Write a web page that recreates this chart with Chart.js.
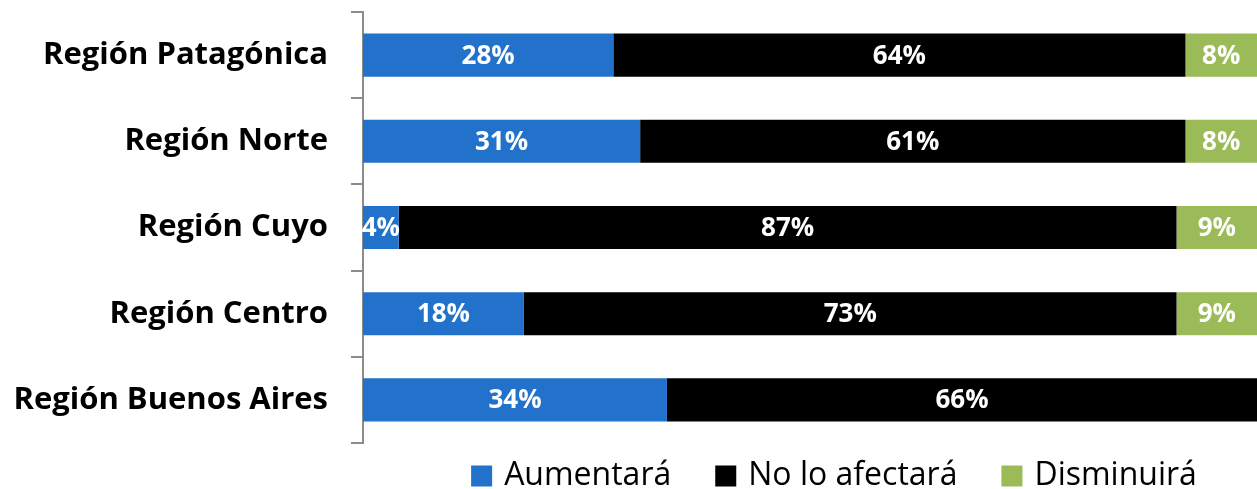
<!DOCTYPE html>
<html>
<head>
<meta charset="utf-8">
<script src="https://cdn.jsdelivr.net/npm/chart.js@4/dist/chart.umd.min.js"></script>
<style>
  html, body { margin: 0; padding: 0; background: #fff; }
  #wrap { width: 1257px; height: 489px; }
</style>
</head>
<body>
<div id="wrap"><canvas id="chart"></canvas></div>
<script>
const regions = ['Región Patagónica', 'Región Norte', 'Región Cuyo', 'Región Centro', 'Región Buenos Aires'];
const aumentara = [28, 31, 4, 18, 34];
const noAfectara = [64, 61, 87, 73, 66];
const disminuira = [8, 8, 9, 9, 0];

const FONT = "'Open Sans', 'Liberation Sans', sans-serif";

// etiquetas de porcentaje dentro de cada tramo
const segmentLabels = {
    id: 'segmentLabels',
    afterDatasetsDraw(chart) {
        const { ctx } = chart;
        ctx.save();
        ctx.fillStyle = '#ffffff';
        ctx.font = 'bold 26px ' + FONT;
        ctx.textAlign = 'center';
        ctx.textBaseline = 'middle';
        chart.data.datasets.forEach((ds, i) => {
            chart.getDatasetMeta(i).data.forEach((bar, j) => {
                const v = ds.data[j];
                if (!v) return;
                const x = (bar.x + bar.base) / 2;
                ctx.fillText(v + '%', x, bar.y + 1);
            });
        });
        ctx.restore();
    }
};

// leyenda dibujada a mano para controlar espacios
const bottomLegend = {
    id: 'bottomLegend',
    afterDraw(chart) {
        const { ctx } = chart;
        const box = 21, gap = 12, spacing = 44;
        ctx.save();
        ctx.font = '32px ' + FONT;
        ctx.textBaseline = 'middle';
        const items = chart.data.datasets.map(ds => ({
            label: ds.label, color: ds.backgroundColor,
            w: box + gap + ctx.measureText(ds.label).width
        }));
        const total = items.reduce((s, it) => s + it.w, 0) + spacing * (items.length - 1);
        let x = 834 - total / 2;
        const y = 476;
        items.forEach(it => {
            ctx.fillStyle = it.color;
            ctx.fillRect(x, y - box / 2, box, box);
            ctx.fillStyle = '#000';
            ctx.fillText(it.label, x + box + gap, y);
            x += it.w + spacing;
        });
        ctx.restore();
    }
};

new Chart(document.getElementById('chart'), {
    type: 'bar',
    data: {
        labels: regions,
        datasets: [
            { label: 'Aumentará', data: aumentara, backgroundColor: '#2272cb' },
            { label: 'No lo afectará', data: noAfectara, backgroundColor: '#000000' },
            { label: 'Disminuirá', data: disminuira, backgroundColor: '#9bbb59' }
        ]
    },
    options: {
        indexAxis: 'y',
        responsive: true,
        maintainAspectRatio: false,
        animation: false,
        barPercentage: 0.5,
        categoryPercentage: 1,
        layout: { padding: { top: 12, right: 0, left: 0, bottom: 46 } },
        plugins: {
            legend: { display: false },
            tooltip: { enabled: false }
        },
        scales: {
            x: {
                stacked: true,
                display: false,
                min: 0,
                max: 100
            },
            y: {
                stacked: true,
                afterFit(scale) {
                    scale.width = 363;
                    scale.paddingTop = 0;
                    scale.paddingBottom = 0;
                },
                border: { color: '#8c8c8c', width: 2 },
                grid: {
                    drawOnChartArea: false,
                    offset: true,
                    color: '#8c8c8c',
                    lineWidth: 2,
                    tickLength: 12
                },
                ticks: {
                    color: '#000',
                    padding: 23,
                    font: { family: FONT, size: 31, weight: 'bold' }
                }
            }
        }
    },
    plugins: [segmentLabels, bottomLegend]
});
</script>
</body>
</html>
